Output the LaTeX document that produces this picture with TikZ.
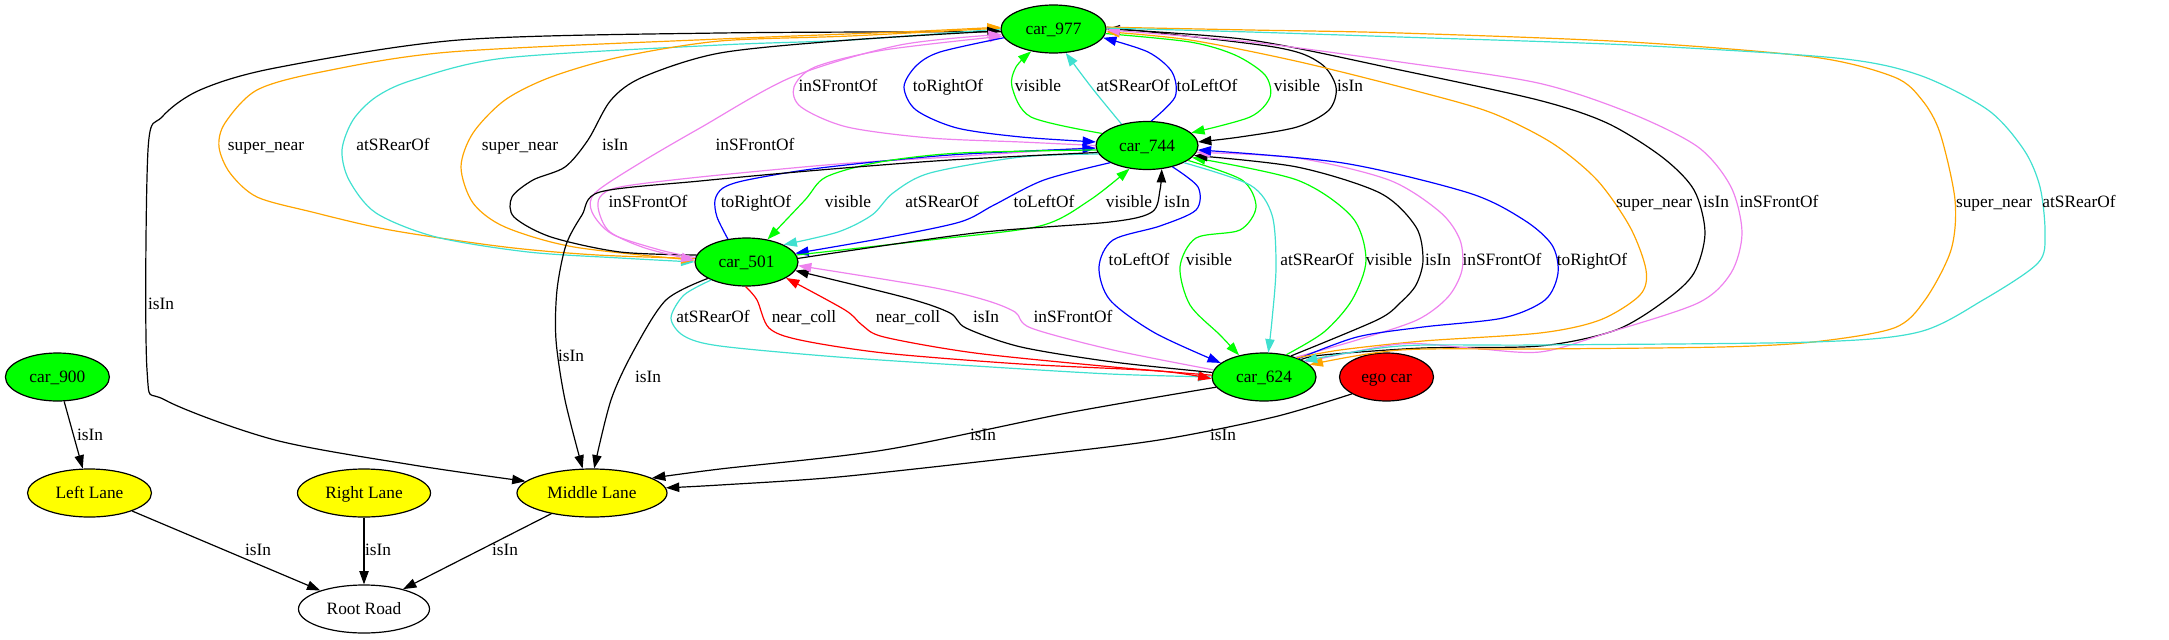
\documentclass[tikz,border=0pt]{standalone}
\usepackage{fontspec}
\setmainfont{Liberation Serif}
\usetikzlibrary{arrows.meta,shapes.geometric}
\definecolor{gvgreen}{HTML}{00FF00}
\definecolor{gvorange}{HTML}{FFA500}
\definecolor{gvturq}{HTML}{40E0D0}
\definecolor{gvviolet}{HTML}{EE82EE}
\definecolor{gvblue}{HTML}{0000FF}
\definecolor{gvred}{HTML}{FF0000}
\definecolor{gvyellow}{HTML}{FFFF00}
\begin{document}
\begin{tikzpicture}[x=0.75pt,y=-0.75pt,
  every node/.style={font=\fontsize{13}{15}\selectfont},
  gnode/.style={ellipse,draw,line width=0.9pt,inner sep=0pt,minimum height=36pt,text height=8.5pt,text depth=0pt},
  carn/.style={gnode,fill=gvgreen},
  lane/.style={gnode,fill=gvyellow},
  lbl/.style={inner sep=0pt,text height=8.5pt,text depth=0pt},
  e/.style={line width=0.9pt,-{Triangle[length=10pt,width=7pt]}},
  ep/.style={e,smooth,tension=0.5}]
\useasboundingbox (0,0) rectangle (2169,639);
% nodes
\node[carn,minimum width=78.75pt] (c977) at (1053.5,29) {car\_977};
\node[carn,minimum width=76.5pt] (c744) at (1147,145.5) {car\_744};
\node[carn,minimum width=77.25pt] (c501) at (746.5,262) {car\_501};
\node[carn,minimum width=78pt] (c624) at (1264,377) {car\_624};
\node[gnode,fill=gvred,minimum width=70.5pt] (ego) at (1386.5,377) {ego car};
\node[carn,minimum width=78pt] (c900) at (57.4,377) {car\_900};
\node[lane,minimum width=93pt] (lleft) at (89.5,493) {Left Lane};
\node[lane,minimum width=99.75pt] (lright) at (364,493) {Right Lane};
\node[lane,minimum width=112.5pt] (lmid) at (592,493) {Middle Lane};
\node[gnode,fill=white,minimum width=98.25pt] (road) at (364,609) {Root Road};
% edges around car_977 / car_501 (left)
\draw[ep,black] plot coordinates {(c977.183) (720,33) (459,40) (275,68) (200,90) (162,117) (148,150) (147,370) (165,400) (275,440) (413,465) (lmid.170)};
\draw[ep,gvorange] plot coordinates {(c501.176) (597,255) (505,247) (390,230) (312,212) (257,197) (230,173) (219,147) (225,123) (257,90) (321,72) (450,52) (720,39) (900,32) (c977.178)};
\draw[ep,gvturq] plot coordinates {(c977.180) (850,40) (720,45) (505,58) (413,80) (376,97) (353,120) (342,150) (349,180) (376,213) (436,237) (528,252) (620,258) (c501.180)};
\draw[ep,gvorange] plot coordinates {(c977.179) (850,36) (720,41) (620,57) (551,77) (505,100) (473,133) (461,167) (473,203) (505,227) (574,247) (c501.178)};
\draw[ep,black] plot coordinates {(c501.172) (620,252) (551,237) (514,217) (512,197) (533,180) (565,167) (588,140) (611,100) (643,77) (720,53) (850,40) (c977.182)};
\draw[ep,gvviolet] plot coordinates {(c501.175) (660,250) (612,234) (592,212) (595,193) (640,163) (700,128) (792,77) (900,45) (c977.186)};
% car_977 <-> car_744
\draw[ep,gvviolet] plot coordinates {(c744.180) (1021,142) (930,138) (847,127) (801,107) (794,87) (815,67) (884,50) (c977.188)};
\draw[ep,gvblue] plot coordinates {(c977.190) (940,52) (916,66) (904,87) (916,110) (957,128) (1021,137) (c744.176)};
\draw[ep,gvgreen] plot coordinates {(c744.165) (1031,117) (1012,87) (1016,67) (c977.225)};
\draw[ep,gvturq] plot coordinates {(c744.140) (1092,88) (c977.297)};
\draw[ep,gvblue] plot coordinates {(c744.80) (1175,97) (1172,72) (1148,52) (c977.350)};
\draw[ep,gvgreen] plot coordinates {(c977.355) (1190,42) (1235,55) (1265,75) (1270,97) (1250,117) (c744.16)};
\draw[ep,black] plot coordinates {(c977.2) (1274,47) (1320,63) (1336,87) (1329,110) (1297,127) (1240,137) (c744.4)};
% car_744 <-> car_501
\draw[ep,gvviolet] plot coordinates {(c744.182) (950,157) (838,164) (700,177) (620,187) (600,197) (599,212) (610,232) (645,248) (c501.178)};
\draw[ep,gvblue] plot coordinates {(c501.129) (717,217) (715,200) (723,188) (747,180) (820,168) (950,155) (c744.183)};
\draw[ep,gvgreen] plot coordinates {(c744.185) (960,153) (880,162) (826,177) (805,200) (c501.47)};
\draw[ep,gvturq] plot coordinates {(c744.190) (1021,157) (930,173) (893,193) (872,215) (838,232) (c501.25)};
\draw[ep,gvblue] plot coordinates {(c744.205) (1044,180) (994,205) (960,222) (884,238) (c501.10)};
\draw[ep,gvgreen] plot coordinates {(c501.8) (930,240) (1040,226) (1090,200) (c744.233)};
\draw[ep,black] plot coordinates {(c501.4) (975,233) (1110,222) (1152,212) (1160,190) (c744.302)};
% to Middle Lane
\draw[ep,black] plot coordinates {(c744.188) (950,160) (820,170) (700,181) (600,192) (582,215) (566,245) (557,290) (556,340) (565,400) (lmid.111)};
\draw[ep,black] plot coordinates {(c501.203) (666,300) (634,350) (611,400) (lmid.85)};
% car_501 <-> car_624
\draw[ep,gvturq] plot coordinates {(c501.207) (684,295) (671,318) (684,336) (720,346) (838,357) (975,366) (1110,374) (c624.180)};
\draw[ep,gvred] plot coordinates {(c501.268) (757,300) (769,328) (800,340) (884,353) (1021,364) (1159,371) (c624.182)};
\draw[ep,gvred] plot coordinates {(c624.178) (1113,367) (975,353) (884,337) (862,325) (845,310) (c501.338)};
\draw[ep,black] plot coordinates {(c624.175) (1113,362) (1021,347) (966,328) (950,313) (907,298) (c501.350)};
\draw[ep,gvviolet] plot coordinates {(c624.172) (1113,350) (1031,328) (1015,312) (985,300) (930,287) (c501.356)};
% car_744 <-> car_624
\draw[ep,gvblue] plot coordinates {(c744.320) (1198,187) (1196,210) (1160,226) (1113,240) (1099,267) (1110,300) (1155,333) (c624.162)};
\draw[ep,gvgreen] plot coordinates {(c744.340) (1242,180) (1256,207) (1240,230) (1196,238) (1180,267) (1190,305) (1220,335) (c624.139)};
\draw[ep,gvturq] plot coordinates {(c744.335) (1250,185) (1272,215) (1276,267) (1272,320) (c624.80)};
\draw[ep,gvgreen] plot coordinates {(c624.45) (1324,332) (1352,300) (1366,260) (1352,217) (1297,180) (c744.345)};
\draw[ep,black] plot coordinates {(c624.38) (1377,320) (1400,303) (1416,285) (1423,260) (1416,227) (1380,193) (1297,167) (c744.348)};
\draw[ep,gvviolet] plot coordinates {(c624.32) (1357,340) (1417,320) (1448,297) (1462,270) (1460,240) (1440,212) (1389,180) (1297,158) (c744.352)};
\draw[ep,gvblue] plot coordinates {(c624.28) (1357,337) (1423,327) (1503,318) (1545,300) (1558,273) (1552,245) (1524,220) (1469,193) (1343,163) (c744.355)};
% car_624 <-> car_977 (right)
\draw[ep,gvorange] plot coordinates {(c624.30) (1340,350) (1423,341) (1540,333) (1600,320) (1640,295) (1646,270) (1630,227) (1597,180) (1552,143) (1492,113) (1420,92) (1300,62) (1190,40) (c977.357)};
\draw[ep,black] plot coordinates {(c624.25) (1323,355) (1423,348) (1540,346) (1616,330) (1666,300) (1694,273) (1705,233) (1694,190) (1662,157) (1607,123) (1538,100) (1400,70) (1250,40) (c977.0)};
\draw[ep,gvviolet] plot coordinates {(c624.20) (1400,344) (1470,348) (1540,352) (1607,333) (1698,303) (1731,273) (1742,233) (1731,187) (1698,147) (1630,113) (1538,83) (1400,62) (1250,42) (c977.359)};
\draw[ep,gvorange] plot coordinates {(c977.2) (1250,30) (1400,33) (1630,42) (1813,57) (1894,77) (1922,100) (1940,133) (1955,200) (1951,250) (1925,300) (1894,328) (1813,342) (1721,347) (1538,349) (1400,350) (c624.15)};
\draw[ep,gvturq] plot coordinates {(c977.1) (1250,32) (1400,37) (1630,45) (1836,58) (1919,75) (1988,110) (2024,150) (2040,187) (2045,233) (2038,263) (1983,300) (1919,332) (1813,342) (1538,345) (1400,346) (c624.22)};
% lower edges
\draw[ep,black] plot coordinates {(c624.192) (1067,413) (884,450) (720,469) (lmid.14)};
\draw[ep,black] plot coordinates {(ego.206) (1274,417) (1159,440) (1021,457) (838,477) (720,485) (lmid.4)};
\draw[e] (c900) -- (lleft);
\draw[e] (lleft) -- (road);
\draw[e] (lright) -- (road);
\draw[e] (lmid) -- (road);
% labels
\node[lbl] (l1) at (161,304) {isIn};
\node[lbl] (l2) at (266,145) {super\_near};
\node[lbl] (l3) at (393,145) {atSRearOf};
\node[lbl] (l4) at (520,145) {super\_near};
\node[lbl] (l5) at (615,145) {isIn};
\node[lbl] (l6) at (755,145) {inSFrontOf};
\node[lbl] (l7) at (838,86) {inSFrontOf};
\node[lbl] (l8) at (948,86) {toRightOf};
\node[lbl] (l9) at (1038,86) {visible};
\node[lbl] (l10) at (1133,86) {atSRearOf};
\node[lbl] (l11) at (1207,86) {toLeftOf};
\node[lbl] (l12) at (1297,86) {visible};
\node[lbl] (l13) at (1350,86) {isIn};
\node[lbl] (l14) at (648,202) {inSFrontOf};
\node[lbl] (l15) at (756,202) {toRightOf};
\node[lbl] (l16) at (848,202) {visible};
\node[lbl] (l17) at (942,202) {atSRearOf};
\node[lbl] (l18) at (1044,202) {toLeftOf};
\node[lbl] (l19) at (1129,202) {visible};
\node[lbl] (l20) at (1177,202) {isIn};
\node[lbl] (l21) at (571,356) {isIn};
\node[lbl] (l22) at (648,377) {isIn};
\node[lbl] (l23) at (713,317) {atSRearOf};
\node[lbl] (l24) at (804,317) {near\_coll};
\node[lbl] (l25) at (908,317) {near\_coll};
\node[lbl] (l26) at (986,317) {isIn};
\node[lbl] (l27) at (1073,317) {inSFrontOf};
\node[lbl] (l28) at (1139,260) {toLeftOf};
\node[lbl] (l29) at (1209,260) {visible};
\node[lbl] (l30) at (1317,260) {atSRearOf};
\node[lbl] (l31) at (1389,260) {visible};
\node[lbl] (l32) at (1438,260) {isIn};
\node[lbl] (l33) at (1502,260) {inSFrontOf};
\node[lbl] (l34) at (1592,260) {toRightOf};
\node[lbl] (l35) at (1654,202) {super\_near};
\node[lbl] (l36) at (1716,202) {isIn};
\node[lbl] (l37) at (1779,202) {inSFrontOf};
\node[lbl] (l38) at (1994,202) {super\_near};
\node[lbl] (l39) at (2079,202) {atSRearOf};
\node[lbl] (l40) at (983,435) {isIn};
\node[lbl] (l41) at (1223,435) {isIn};
\node[lbl] (l42) at (90,435) {isIn};
\node[lbl] (l43) at (258,550) {isIn};
\node[lbl] (l44) at (378,550) {isIn};
\node[lbl] (l45) at (505,550) {isIn};
\end{tikzpicture}
\end{document}
